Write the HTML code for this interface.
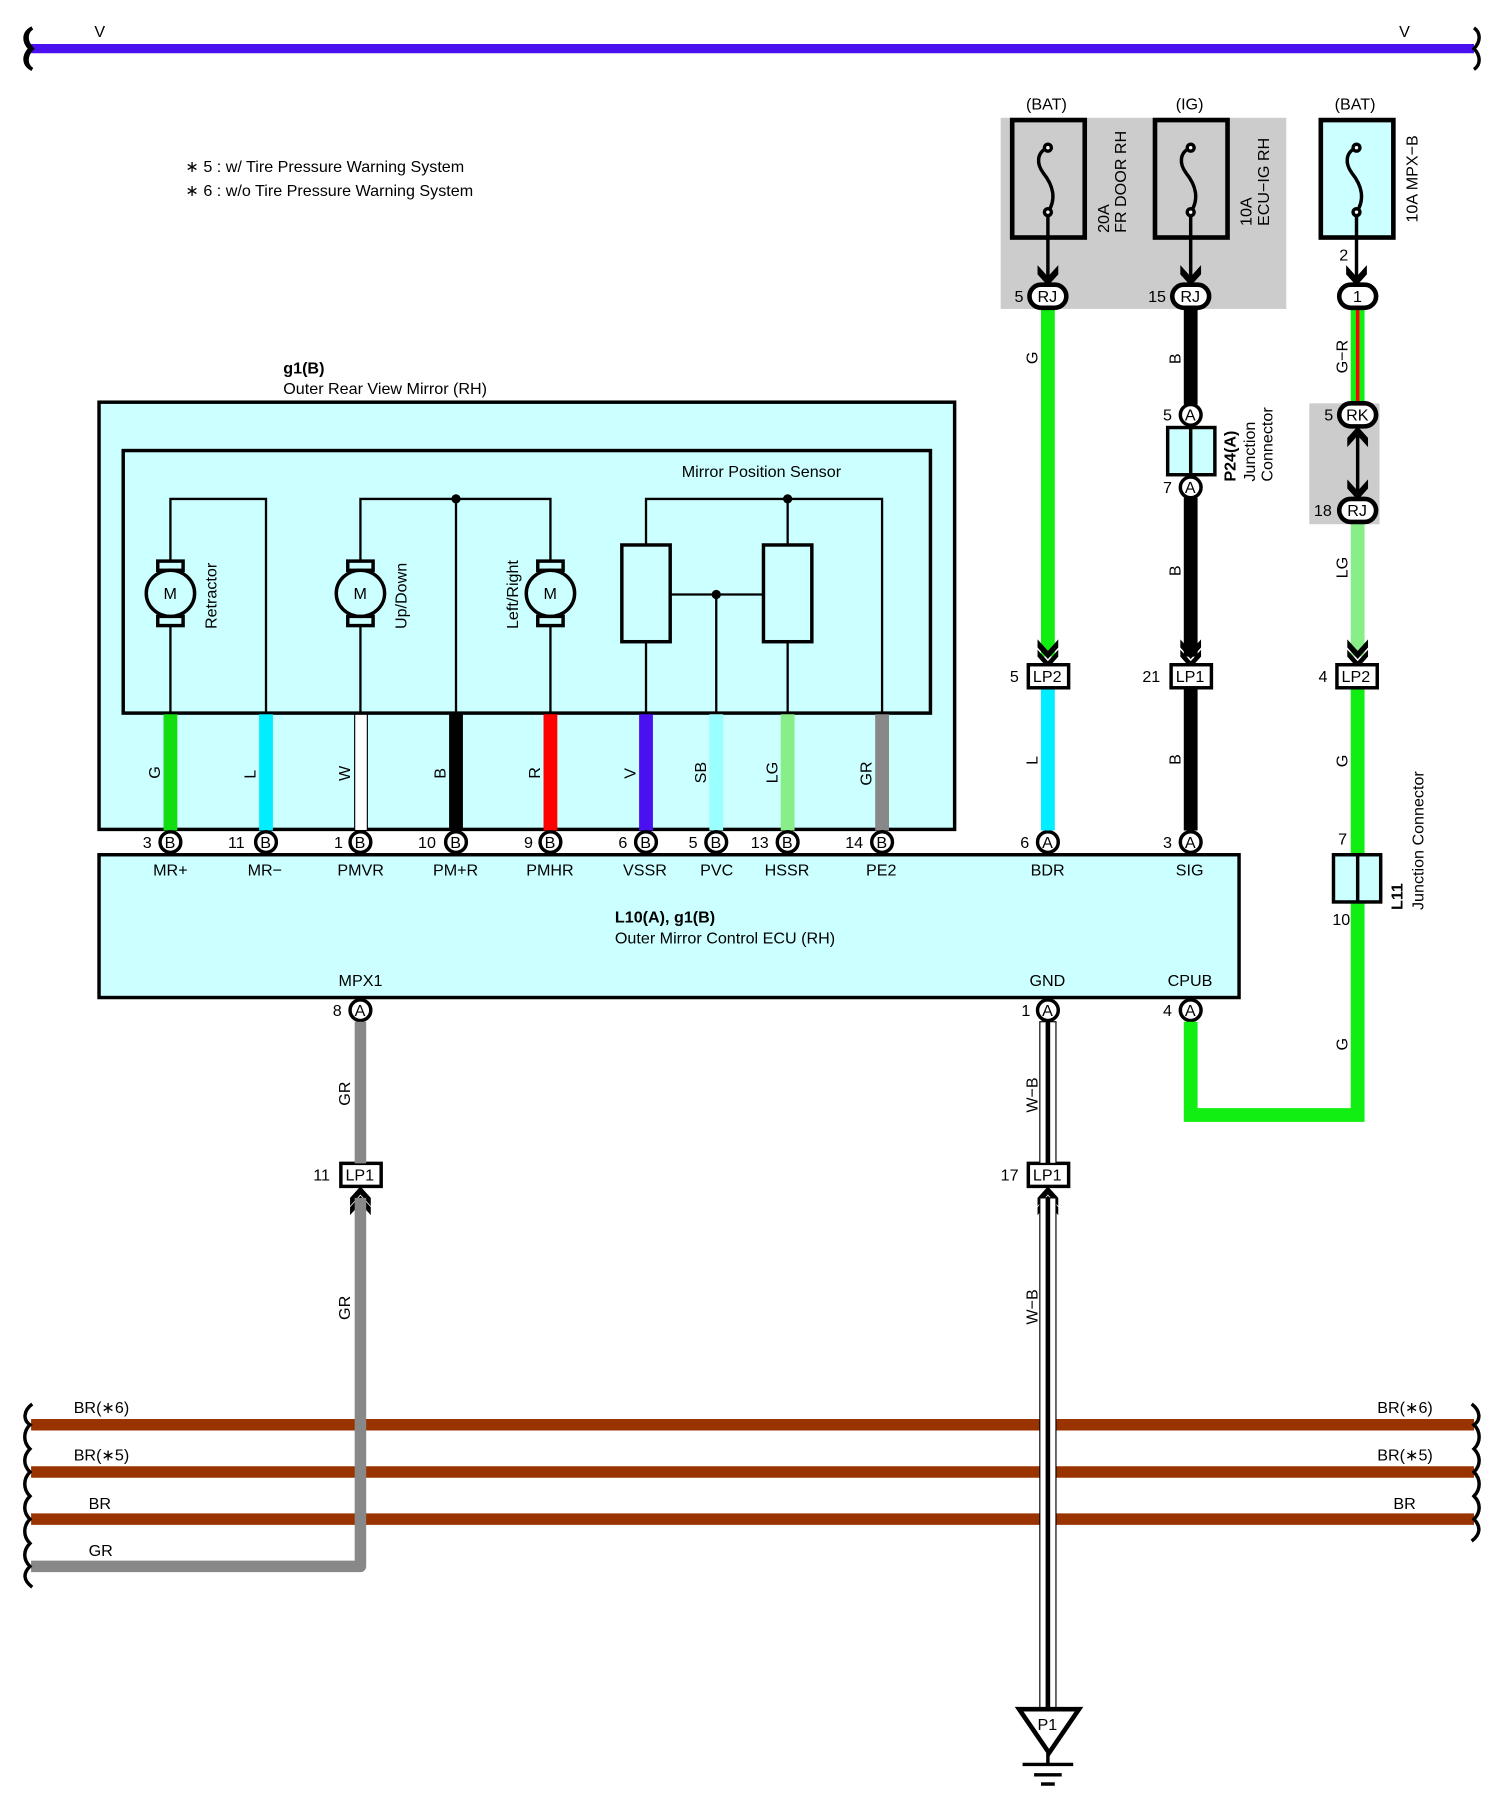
<!DOCTYPE html>
<html><head><meta charset="utf-8"><style>
html,body{margin:0;padding:0;background:#fff}
svg{display:block}
text{font-family:"Liberation Sans",sans-serif;font-size:14px;fill:#000}
</style></head><body>
<svg width="1497" height="1797" viewBox="0 0 1300 1560" xmlns="http://www.w3.org/2000/svg">
<defs>
<g id="brace"><path d="M0,-18 C-6,-14 -6,-6 0,0 C-6,6 -6,14 0,18" fill="none" stroke="#000" stroke-width="3"/></g>
</defs>
<!-- top bar -->
<line x1="27" y1="42" x2="1280" y2="42" stroke="#4a10f0" stroke-width="8"/>
<use href="#brace" x="28" y="42"/><path d="M1280,24 C1286,28 1286,36 1280,42 C1286,48 1286,56 1280,60" fill="none" stroke="#000" stroke-width="3"/>
<text x="82" y="32" font-size="12">V</text><text x="1215" y="32" font-size="12">V</text>
<text x="161" y="149">∗ 5 : w/ Tire Pressure Warning System</text>
<text x="161" y="170">∗ 6 : w/o Tire Pressure Warning System</text>

<!-- mirror box -->
<text x="246" y="324" font-weight="bold">g1(B)</text>
<text x="246" y="342">Outer Rear View Mirror (RH)</text>
<rect x="86" y="349" width="743" height="371" fill="#ccffff" stroke="#000" stroke-width="3"/>
<rect x="107" y="391" width="701" height="228" fill="#ccffff" stroke="#000" stroke-width="3"/>
<text x="592" y="414">Mirror Position Sensor</text>
<g fill="none" stroke="#000" stroke-width="2">
<polyline points="148,619 148,433 231,433 231,619"/>
<polyline points="313,619 313,433 478,433 478,619"/>
<line x1="396" y1="433" x2="396" y2="619"/>
<polyline points="561,619 561,433 766,433 766,619"/>
<line x1="684" y1="433" x2="684" y2="619"/>
<line x1="582" y1="516" x2="663" y2="516"/>
<line x1="622" y1="516" x2="622" y2="619"/>
</g>
<rect x="540" y="473" width="42" height="84" fill="#ccffff" stroke="#000" stroke-width="3"/>
<rect x="663" y="473" width="42" height="84" fill="#ccffff" stroke="#000" stroke-width="3"/>
<g fill="#000"><circle cx="396" cy="433" r="4"/><circle cx="684" cy="433" r="4"/><circle cx="622" cy="516" r="4"/></g>
<g id="motors">
<g transform="translate(148,515)"><rect x="-11" y="-28" width="22" height="8" fill="#ccffff" stroke="#000" stroke-width="3"/><rect x="-11" y="20" width="22" height="8" fill="#ccffff" stroke="#000" stroke-width="3"/><ellipse rx="21" ry="20" fill="#ccffff" stroke="#000" stroke-width="3"/><text x="-6" y="5">M</text></g>
<g transform="translate(313,515)"><rect x="-11" y="-28" width="22" height="8" fill="#ccffff" stroke="#000" stroke-width="3"/><rect x="-11" y="20" width="22" height="8" fill="#ccffff" stroke="#000" stroke-width="3"/><ellipse rx="21" ry="20" fill="#ccffff" stroke="#000" stroke-width="3"/><text x="-6" y="5">M</text></g>
<g transform="translate(478,515)"><rect x="-11" y="-28" width="22" height="8" fill="#ccffff" stroke="#000" stroke-width="3"/><rect x="-11" y="20" width="22" height="8" fill="#ccffff" stroke="#000" stroke-width="3"/><ellipse rx="21" ry="20" fill="#ccffff" stroke="#000" stroke-width="3"/><text x="-6" y="5">M</text></g>
</g>
<text transform="translate(188,546) rotate(-90)">Retractor</text>
<text transform="translate(353,546) rotate(-90)">Up/Down</text>
<text transform="translate(450,546) rotate(-90)">Left/Right</text>

<!-- mirror wires -->
<g stroke-width="12">
<line x1="148" y1="620" x2="148" y2="721" stroke="#11dd11"/>
<line x1="231" y1="620" x2="231" y2="721" stroke="#00eeff"/>
<line x1="396" y1="620" x2="396" y2="721" stroke="#000"/>
<line x1="478" y1="620" x2="478" y2="721" stroke="#ff0000"/>
<line x1="561" y1="620" x2="561" y2="721" stroke="#4a10f0"/>
<line x1="622" y1="620" x2="622" y2="721" stroke="#99ffff"/>
<line x1="684" y1="620" x2="684" y2="721" stroke="#88ee88"/>
<line x1="766" y1="620" x2="766" y2="721" stroke="#888888"/>
</g>
<rect x="308" y="620" width="11" height="101" fill="#fff" stroke="#000" stroke-width="1"/>
<g font-size="12">
<text transform="translate(139,676) rotate(-90)">G</text>
<text transform="translate(222,676) rotate(-90)">L</text>
<text transform="translate(304,678) rotate(-90)">W</text>
<text transform="translate(387,676) rotate(-90)">B</text>
<text transform="translate(469,676) rotate(-90)">R</text>
<text transform="translate(552,676) rotate(-90)">V</text>
<text transform="translate(613,680) rotate(-90)">SB</text>
<text transform="translate(675,680) rotate(-90)">LG</text>
<text transform="translate(757,682) rotate(-90)">GR</text>
</g>

<!-- ECU -->
<rect x="86" y="742" width="990" height="124" fill="#ccffff" stroke="#000" stroke-width="3"/>
<g font-size="13">
<text x="133" y="760">MR+</text><text x="215" y="760">MR−</text><text x="293" y="760">PMVR</text><text x="376" y="760">PM+R</text>
<text x="457" y="760">PMHR</text><text x="541" y="760">VSSR</text><text x="608" y="760">PVC</text><text x="664" y="760">HSSR</text>
<text x="752" y="760">PE2</text><text x="895" y="760">BDR</text><text x="1021" y="760">SIG</text>
<text x="294" y="856">MPX1</text><text x="894" y="856">GND</text><text x="1014" y="856">CPUB</text>
</g>
<text x="534" y="801" font-weight="bold">L10(A), g1(B)</text>
<text x="534" y="819">Outer Mirror Control ECU (RH)</text>

<!-- connectors row -->
<g font-size="13">
<g stroke="#000" stroke-width="3" fill="#fff">
<circle cx="148" cy="731" r="9"/><circle cx="231" cy="731" r="9"/><circle cx="313" cy="731" r="9"/><circle cx="396" cy="731" r="9"/><circle cx="478" cy="731" r="9"/><circle cx="561" cy="731" r="9"/><circle cx="622" cy="731" r="9"/><circle cx="684" cy="731" r="9"/><circle cx="766" cy="731" r="9"/><circle cx="910" cy="731" r="9"/><circle cx="1034" cy="731" r="9"/>
<circle cx="313" cy="877" r="9"/><circle cx="910" cy="877" r="9"/><circle cx="1034" cy="877" r="9"/>
<circle cx="1034" cy="360" r="9"/><circle cx="1034" cy="423" r="9"/>
</g>
<g font-size="12">
<text x="143" y="736">B</text><text x="226" y="736">B</text><text x="308" y="736">B</text><text x="391" y="736">B</text><text x="473" y="736">B</text><text x="556" y="736">B</text><text x="617" y="736">B</text><text x="679" y="736">B</text><text x="761" y="736">B</text><text x="905" y="736">A</text><text x="1029" y="736">A</text>
<text x="308" y="882">A</text><text x="905" y="882">A</text><text x="1029" y="882">A</text><text x="1029" y="365">A</text><text x="1029" y="428">A</text>
</g>
<text x="124" y="736">3</text><text x="198" y="736">11</text><text x="290" y="736">1</text><text x="363" y="736">10</text><text x="455" y="736">9</text><text x="537" y="736">6</text><text x="598" y="736">5</text><text x="652" y="736">13</text><text x="734" y="736">14</text><text x="886" y="736">6</text><text x="1010" y="736">3</text>
<text x="289" y="882">8</text><text x="887" y="882">1</text><text x="1010" y="882">4</text>
<text x="1010" y="365">5</text><text x="1010" y="428">7</text>
</g>

<!-- right gray box & fuses -->
<rect x="869" y="102" width="248" height="166" fill="#cccccc"/>
<rect x="1137" y="350" width="61" height="105" fill="#cccccc"/>
<text x="891" y="95">(BAT)</text><text x="1021" y="95">(IG)</text><text x="1159" y="95">(BAT)</text>
<rect x="879" y="104" width="63" height="102" fill="#cccccc" stroke="#000" stroke-width="4"/>
<rect x="1003" y="104" width="63" height="102" fill="#cccccc" stroke="#000" stroke-width="4"/>
<rect x="1147" y="104" width="63" height="102" fill="#ccffff" stroke="#000" stroke-width="4"/>
<g fill="none" stroke="#000" stroke-width="3">
<path d="M910,128 C900,132 900,142 906,150 C914,160 918,172 910,184"/><circle cx="910" cy="128" r="3" fill="#fff"/><circle cx="910" cy="184" r="3" fill="#fff"/>
<path d="M1034,128 C1024,132 1024,142 1030,150 C1038,160 1042,172 1034,184"/><circle cx="1034" cy="128" r="3" fill="#fff"/><circle cx="1034" cy="184" r="3" fill="#fff"/>
<path d="M1178,128 C1168,132 1168,142 1174,150 C1182,160 1186,172 1178,184"/><circle cx="1178" cy="128" r="3" fill="#fff"/><circle cx="1178" cy="184" r="3" fill="#fff"/>
<line x1="910" y1="187" x2="910" y2="240"/><line x1="1034" y1="187" x2="1034" y2="240"/><line x1="1178" y1="187" x2="1178" y2="240"/>
</g>
<g font-size="13">
<text transform="translate(963,202) rotate(-90)">20A</text><text transform="translate(978,202) rotate(-90)">FR DOOR RH</text>
<text transform="translate(1087,196) rotate(-90)">10A</text><text transform="translate(1102,196) rotate(-90)">ECU−IG RH</text>
<text transform="translate(1231,193) rotate(-90)">10A MPX−B</text>
</g>
<!-- arrows down -->
<g fill="#000">
<path d="M901,230 L910,240 L919,230 L919,238 L910,248 L901,238Z"/>
<path d="M1025,230 L1034,240 L1043,230 L1043,238 L1034,248 L1025,238Z"/>
<path d="M1169,230 L1178,240 L1187,230 L1187,238 L1178,248 L1169,238Z"/>
</g>
<!-- wires right -->
<line x1="910" y1="267" x2="910" y2="570" stroke="#11ee11" stroke-width="12"/>
<line x1="910" y1="597" x2="910" y2="721" stroke="#00eeff" stroke-width="12"/>
<line x1="1034" y1="267" x2="1034" y2="351" stroke="#000" stroke-width="12"/>
<line x1="1034" y1="432" x2="1034" y2="570" stroke="#000" stroke-width="12"/>
<line x1="1034" y1="597" x2="1034" y2="721" stroke="#000" stroke-width="12"/>
<line x1="1179" y1="267" x2="1179" y2="350" stroke="#11ee11" stroke-width="12"/>
<line x1="1179" y1="267" x2="1179" y2="350" stroke="#ff0000" stroke-width="3"/>
<line x1="1179" y1="453" x2="1179" y2="570" stroke="#88ee88" stroke-width="12"/>
<polyline points="1179,597 1179,968 1034,968 1034,887" fill="none" stroke="#11ee11" stroke-width="12"/>
<!-- P24 junction -->
<rect x="1014" y="371" width="41" height="41" fill="#ccffff" stroke="#000" stroke-width="3"/><line x1="1034" y1="371" x2="1034" y2="412" stroke="#000" stroke-width="3"/>
<text transform="translate(1073,418) rotate(-90)" font-weight="bold">P24(A)</text>
<text transform="translate(1090,418) rotate(-90)" font-size="13">Junction</text>
<text transform="translate(1105,418) rotate(-90)" font-size="13">Connector</text>
<!-- L11 junction -->
<rect x="1158" y="742" width="41" height="41" fill="#ccffff" stroke="#000" stroke-width="3"/><line x1="1179" y1="742" x2="1179" y2="783" stroke="#000" stroke-width="3"/>
<text x="1162" y="733" font-size="13">7</text><text x="1157" y="803" font-size="13">10</text>
<text transform="translate(1218,790) rotate(-90)" font-weight="bold">L11</text>
<text transform="translate(1236,790) rotate(-90)" font-size="13">Junction Connector</text>
<!-- RK/RJ double arrow -->
<line x1="1179" y1="370" x2="1179" y2="433" stroke="#000" stroke-width="3"/>
<path d="M1170,380 L1179,370 L1188,380 L1188,388 L1179,378 L1170,388Z" fill="#000"/>
<path d="M1170,416 L1179,426 L1188,416 L1188,424 L1179,434 L1170,424Z" fill="#000"/>
<!-- capsules -->
<g fill="#fff" stroke="#000" stroke-width="4">
<rect x="894" y="247" width="32" height="20" rx="10"/><rect x="1018" y="247" width="32" height="20" rx="10"/><rect x="1163" y="247" width="32" height="20" rx="10"/>
<rect x="1163" y="350" width="32" height="20" rx="10"/><rect x="1163" y="433" width="32" height="20" rx="10"/>
</g>
<g font-size="13">
<text x="901" y="262">RJ</text><text x="1025" y="262">RJ</text><text x="1175" y="262">1</text><text x="1169" y="365">RK</text><text x="1170" y="448">RJ</text>
<text x="881" y="262">5</text><text x="997" y="262">15</text><text x="1163" y="226">2</text><text x="1150" y="365">5</text><text x="1141" y="448">18</text>
</g>
<!-- LP connectors -->
<g fill="#000">
<path d="M901,555 L910,565 L919,555 L919,562 L910,572 L901,562Z"/><path d="M901,564 L910,574 L919,564 L919,570 L910,580 L901,570Z"/>
<path d="M1025,555 L1034,565 L1043,555 L1043,562 L1034,572 L1025,562Z"/><path d="M1025,564 L1034,574 L1043,564 L1043,570 L1034,580 L1025,570Z"/>
<path d="M1170,555 L1179,565 L1188,555 L1188,562 L1179,572 L1170,562Z"/><path d="M1170,564 L1179,574 L1188,564 L1188,570 L1179,580 L1170,570Z"/>
<path d="M304,1040 L313,1030 L322,1040 L322,1047 L313,1037 L304,1047Z"/><path d="M304,1048 L313,1038 L322,1048 L322,1055 L313,1045 L304,1055Z"/>
<path d="M901,1040 L910,1030 L919,1040 L919,1047 L910,1037 L901,1047Z"/><path d="M901,1048 L910,1038 L919,1048 L919,1055 L910,1045 L901,1055Z"/>
</g>
<g fill="#fff" stroke="#000" stroke-width="3">
<rect x="893" y="577" width="35" height="20"/><rect x="1017" y="577" width="35" height="20"/><rect x="1161" y="577" width="35" height="20"/>
<rect x="296" y="1010" width="35" height="20"/><rect x="893" y="1010" width="35" height="20"/>
</g>
<g font-size="13">
<text x="897" y="592">LP2</text><text x="1021" y="592">LP1</text><text x="1165" y="592">LP2</text><text x="300" y="1025">LP1</text><text x="897" y="1025">LP1</text>
<text x="877" y="592">5</text><text x="992" y="592">21</text><text x="1145" y="592">4</text><text x="272" y="1025">11</text><text x="869" y="1025">17</text>
</g>
<g font-size="12">
<text transform="translate(901,316) rotate(-90)">G</text>
<text transform="translate(1025,316) rotate(-90)">B</text>
<text transform="translate(1170,324) rotate(-90)">G−R</text>
<text transform="translate(1025,500) rotate(-90)">B</text>
<text transform="translate(1170,502) rotate(-90)">LG</text>
<text transform="translate(901,664) rotate(-90)">L</text>
<text transform="translate(1025,664) rotate(-90)">B</text>
<text transform="translate(1170,666) rotate(-90)">G</text>
<text transform="translate(1170,912) rotate(-90)">G</text>
<text transform="translate(304,960) rotate(-90)">GR</text>
<text transform="translate(304,1146) rotate(-90)">GR</text>
<text transform="translate(901,966) rotate(-90)">W−B</text>
<text transform="translate(901,1150) rotate(-90)">W−B</text>
</g>

<!-- brown bars -->
<g stroke="#993300" stroke-width="10">
<line x1="27" y1="1237" x2="1280" y2="1237"/><line x1="27" y1="1278" x2="1280" y2="1278"/><line x1="27" y1="1319" x2="1280" y2="1319"/>
</g>
<rect x="903" y="1225" width="14" height="105" fill="#fff"/>
<!-- GR wire -->
<polyline points="313,887 313,1010" fill="none" stroke="#888" stroke-width="10"/>
<polyline points="313,1040 313,1360 27,1360" fill="none" stroke="#888" stroke-width="10" stroke-linejoin="round"/>
<!-- W-B wire -->
<rect x="903" y="887" width="14" height="123" fill="#fff" stroke="#000" stroke-width="1"/><line x1="910" y1="887" x2="910" y2="1010" stroke="#000" stroke-width="4"/>
<rect x="903" y="1040" width="14" height="444" fill="#fff" stroke="#000" stroke-width="1"/><line x1="910" y1="1040" x2="910" y2="1484" stroke="#000" stroke-width="4"/>
<path d="M885,1484 L937,1484 L911,1522Z" fill="#fff" stroke="#000" stroke-width="4"/>
<text x="901" y="1502" font-size="13">P1</text>
<g stroke="#000" stroke-width="3"><line x1="910" y1="1522" x2="910" y2="1532"/><line x1="888" y1="1532" x2="932" y2="1532"/><line x1="898" y1="1541" x2="922" y2="1541"/><line x1="904" y1="1549" x2="916" y2="1549"/></g>

<!-- braces left/right -->
<g fill="none" stroke="#000" stroke-width="3">
<path d="M28,1219 C20,1225 20,1233 26,1237 C20,1243 20,1252 26,1258 C20,1264 20,1272 26,1278 C20,1284 20,1293 26,1299 C20,1305 20,1313 26,1319 C20,1325 20,1334 26,1340 C20,1346 20,1354 26,1360 C20,1366 20,1372 28,1378"/>
<path d="M1278,1219 C1286,1225 1286,1233 1280,1237 C1286,1243 1286,1252 1280,1258 C1286,1264 1286,1272 1280,1278 C1286,1284 1286,1293 1280,1299 C1286,1305 1286,1313 1280,1319 C1286,1325 1286,1332 1278,1338"/>
<path d="M28,24 C20,28 20,36 26,42 C20,48 20,56 28,60"/>
</g>
<g font-size="13">
<text x="64" y="1227">BR(∗6)</text><text x="64" y="1268">BR(∗5)</text><text x="77" y="1310">BR</text><text x="77" y="1351">GR</text>
<text x="1196" y="1227">BR(∗6)</text><text x="1196" y="1268">BR(∗5)</text><text x="1210" y="1310">BR</text>
</g>
</svg>
</body></html>
